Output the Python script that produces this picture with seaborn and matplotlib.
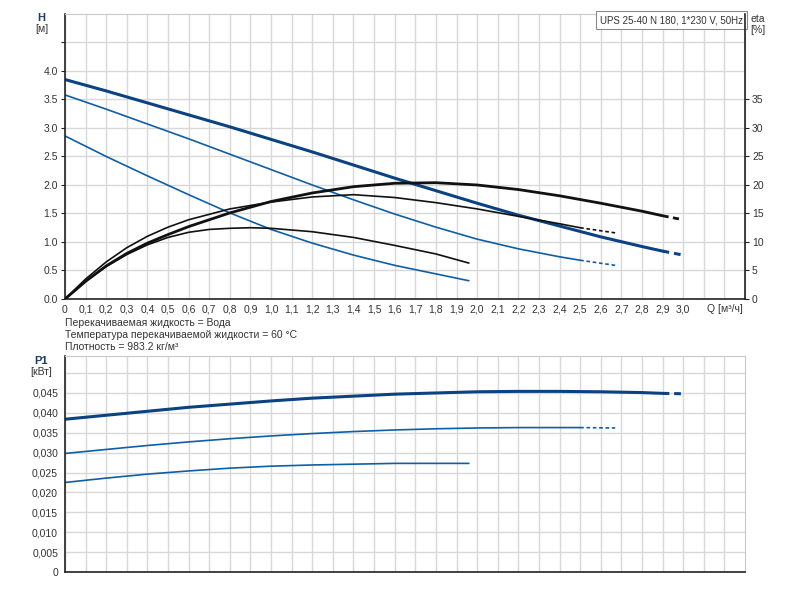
import numpy as np
import pandas as pd
import matplotlib
matplotlib.use("Agg")
import matplotlib.pyplot as plt
import seaborn as sns

# flow rates and values, one set per pump speed
q_h1 = [0.0, 0.2, 0.4, 0.6, 0.8, 1.0, 1.2, 1.4, 1.6, 1.8, 1.96]
h1 = [2.86, 2.50, 2.16, 1.83, 1.51, 1.22, 0.98, 0.77, 0.59, 0.44, 0.32]
q_h2 = [0.0, 0.2, 0.4, 0.6, 0.8, 1.0, 1.2, 1.4, 1.6, 1.8, 2.0, 2.2, 2.4, 2.5, 2.67]
h2 = [3.58, 3.33, 3.07, 2.81, 2.54, 2.27, 2.00, 1.74, 1.49, 1.26, 1.05, 0.88, 0.74, 0.68, 0.59]
q_h3 = [0.0, 0.2, 0.4, 0.6, 0.8, 1.0, 1.2, 1.4, 1.6, 1.8, 2.0, 2.2, 2.4, 2.6, 2.8, 2.9, 3.0]
h3 = [3.85, 3.65, 3.44, 3.23, 3.02, 2.80, 2.58, 2.35, 2.12, 1.90, 1.68, 1.47, 1.28, 1.09, 0.92, 0.84, 0.77]

q_e1 = [0.0, 0.1, 0.2, 0.3, 0.4, 0.5, 0.6, 0.7, 0.8, 0.9, 1.0, 1.2, 1.4, 1.6, 1.8, 1.96]
eta1 = [0.0, 3.1, 5.7, 7.8, 9.5, 10.8, 11.7, 12.2, 12.4, 12.5, 12.4, 11.8, 10.8, 9.4, 7.9, 6.3]
q_e2 = [0.0, 0.1, 0.2, 0.3, 0.4, 0.5, 0.6, 0.8, 1.0, 1.2, 1.4, 1.6, 1.8, 2.0, 2.2, 2.4, 2.5, 2.67]
eta2 = [0.0, 3.5, 6.5, 9.0, 11.0, 12.6, 13.9, 15.8, 17.0, 17.9, 18.3, 17.8, 16.9, 15.8, 14.5, 13.2, 12.5, 11.6]
q_e3 = [0.0, 0.1, 0.2, 0.3, 0.4, 0.5, 0.6, 0.8, 1.0, 1.2, 1.4, 1.6, 1.8, 2.0, 2.2, 2.4, 2.6, 2.8, 2.9, 3.0]
eta3 = [0.0, 3.1, 5.8, 8.0, 9.8, 11.3, 12.7, 15.1, 17.1, 18.6, 19.7, 20.3, 20.4, 20.0, 19.2, 18.1, 16.8, 15.4, 14.6, 13.9]

q_p1 = [0.0, 0.2, 0.4, 0.6, 0.8, 1.0, 1.2, 1.4, 1.6, 1.8, 1.96]
p1 = [0.0225, 0.0236, 0.0246, 0.0254, 0.0261, 0.0266, 0.0269, 0.0271, 0.0273, 0.0273, 0.0273]
q_p2 = [0.0, 0.2, 0.4, 0.6, 0.8, 1.0, 1.2, 1.4, 1.6, 1.8, 2.0, 2.2, 2.4, 2.5, 2.67]
p2 = [0.0298, 0.0308, 0.0318, 0.0327, 0.0335, 0.0342, 0.0348, 0.0353, 0.0357, 0.0360,
      0.0362, 0.0363, 0.0363, 0.0363, 0.0362]
q_p3 = [0.0, 0.2, 0.4, 0.6, 0.8, 1.0, 1.2, 1.4, 1.6, 1.8, 2.0, 2.2, 2.4, 2.6, 2.8, 2.9, 3.0]
p3 = [0.0384, 0.0394, 0.0404, 0.0414, 0.0422, 0.0430, 0.0437, 0.0442, 0.0447, 0.0450,
      0.0453, 0.0454, 0.0454, 0.0453, 0.0451, 0.0449, 0.0448]

# flow where each speed's curve turns dashed (None = no dashed tail)
dash_from = [None, 2.5, 2.9]

x_ticks = np.round(np.arange(0, 3.25, 0.1), 1)
x_labels = [f"{v:.1f}".replace(".", ",") if v > 0 else "0" for v in x_ticks]
x_labels = [lab if v <= 3.0 else "" for lab, v in zip(x_labels, x_ticks)]
h_ticks = np.arange(0, 4.55, 0.5)
h_labels = [f"{v:.1f}" if v <= 4.0 else "" for v in h_ticks]
eta_ticks = np.arange(0, 36, 5)
p_ticks = np.round(np.arange(0, 0.0505, 0.005), 3)
p_labels = ["0"] + [f"{v:.3f}".replace(".", ",") for v in p_ticks[1:-1]] + [""]

info_lines = ["Перекачиваемая жидкость = Вода",
              "Температура перекачиваемой жидкости = 60 °C",
              "Плотность = 983.2 кг/м³"]
title = "UPS 25-40 N 180, 1*230 V, 50Hz"

sns.set_style("white")
plt.rcParams["font.family"] = ["Liberation Sans", "DejaVu Sans"]

BLUE_DARK = "#0b4282"
BLUE = "#0e5ea8"
BLACK = "#111111"
GRID = "#d8d8d8"
TXT = "#333333"


def draw(ax, q, y, cutoff, color, lw):
    df = pd.DataFrame({"q": q, "y": y})
    if cutoff is None:
        solid, dashed = df, None
    else:
        solid = df[df["q"] <= cutoff]
        dashed = df[df["q"] >= cutoff]
    sns.lineplot(data=solid, x="q", y="y", ax=ax, color=color, linewidth=lw,
                 sort=False, estimator=None)
    if dashed is not None:
        sns.lineplot(data=dashed, x="q", y="y", ax=ax, color=color, linewidth=lw,
                     linestyle=(0, (2.2, 1.6)), sort=False, estimator=None)


def style_axes(ax):
    ax.set_xlim(0, 3.3)
    ax.set_xticks(x_ticks)
    ax.grid(True, color=GRID, linewidth=1)
    ax.set_axisbelow(True)
    for side in ["top", "right"]:
        ax.spines[side].set_color("#c8c8c8")
    for side in ["left", "bottom"]:
        ax.spines[side].set_color("#222222")
        ax.spines[side].set_linewidth(1.2)
    ax.tick_params(axis="both", length=3, width=0.8, color="#222222",
                   labelsize=7.5, labelcolor=TXT, pad=2, direction="out")
    ax.set_xlabel("")
    ax.set_ylabel("")


fig = plt.figure(figsize=(8, 6), dpi=100)
ax_h = fig.add_axes([0.08125, 0.5017, 0.85, 0.475])
ax_p = fig.add_axes([0.08125, 0.0467, 0.85, 0.36])

# head curves
draw(ax_h, q_h1, h1, dash_from[0], BLUE, 1.2)
draw(ax_h, q_h2, h2, dash_from[1], BLUE, 1.2)
draw(ax_h, q_h3, h3, dash_from[2], BLUE_DARK, 2.2)
style_axes(ax_h)
ax_h.set_ylim(0, 5.0)
ax_h.set_yticks(h_ticks)
ax_h.set_yticklabels(h_labels)
ax_h.set_xticklabels(x_labels)
ax_h.tick_params(axis="x", labelsize=7.5, pad=1)

# efficiency on the right axis
ax_e = ax_h.twinx()
ax_e.set_position(ax_h.get_position())
draw(ax_e, q_e1, eta1, dash_from[0], BLACK, 1.2)
draw(ax_e, q_e2, eta2, dash_from[1], BLACK, 1.2)
draw(ax_e, q_e3, eta3, dash_from[2], BLACK, 2.0)
ax_e.set_ylim(0, 50)
ax_e.set_yticks(eta_ticks)
ax_e.set_xlim(0, 3.3)
for side in ["top", "left", "bottom"]:
    ax_e.spines[side].set_visible(False)
ax_e.spines["right"].set_color("#222222")
ax_e.spines["right"].set_linewidth(1.2)
ax_e.tick_params(axis="y", length=3, width=0.8, color="#222222",
                 labelsize=7.5, labelcolor=TXT, pad=2)
ax_e.set_ylabel("")

# power curves
draw(ax_p, q_p1, p1, dash_from[0], BLUE, 1.2)
draw(ax_p, q_p2, p2, dash_from[1], BLUE, 1.2)
draw(ax_p, q_p3, p3, dash_from[2], BLUE_DARK, 2.2)
style_axes(ax_p)
ax_p.set_ylim(0, 0.0543)
ax_p.set_yticks(p_ticks)
ax_p.set_yticklabels(p_labels)
ax_p.set_xticklabels([])
ax_p.tick_params(axis="x", length=0)

# axis captions
fig.text(0.052, 0.970, "H", ha="center", va="center", fontsize=8,
         color="#1f3a60", fontweight="bold")
fig.text(0.052, 0.951, "[м]", ha="center", va="center", fontsize=7.5, color=TXT)
fig.text(0.947, 0.968, "eta", ha="center", va="center", fontsize=7.5, color=TXT)
fig.text(0.947, 0.950, "[%]", ha="center", va="center", fontsize=7.5, color=TXT)
fig.text(0.051, 0.398, "P1", ha="center", va="center", fontsize=8,
         color="#1f3a60", fontweight="bold")
fig.text(0.051, 0.380, "[кВт]", ha="center", va="center", fontsize=7.5, color=TXT)
fig.text(0.906, 0.485, "Q [м³/ч]", ha="center", va="center", fontsize=7.5, color=TXT)

for i, line in enumerate(info_lines):
    fig.text(0.0815, 0.462 - i * 0.0205, line, ha="left", va="center",
             fontsize=7.5, color=TXT)

ax_h.text(0.997, 0.996, title, transform=ax_h.transAxes, ha="right", va="top",
          fontsize=7, color=TXT, zorder=10,
          bbox=dict(boxstyle="square,pad=0.4", fc="white", ec="#8a8a8a", lw=0.8))

fig.savefig("out.png", dpi=100)
